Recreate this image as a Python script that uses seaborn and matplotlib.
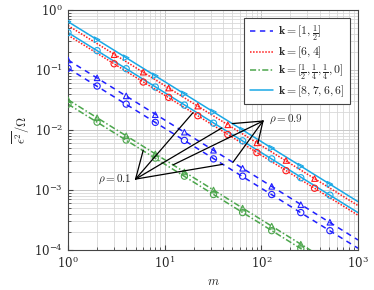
import matplotlib
matplotlib.use('Agg')
import matplotlib.pyplot as plt
import seaborn as sns

sns.set_style('ticks')
plt.rcParams['font.family'] = ['DejaVu Serif']
plt.rcParams['mathtext.fontset'] = 'cm'

# theory lines, value at m=1 and m=1000
m_line = [1, 1000]
blue_hi_line = [0.147, 1.47e-4]
blue_lo_line = [0.107, 1.07e-4]
red_hi_line = [0.55, 5.5e-4]
red_lo_line = [0.38, 3.8e-4]
green_hi_line = [0.032, 3.2e-5]
green_lo_line = [0.027, 2.7e-5]
cyan_hi_line = [0.64, 6.4e-4]
cyan_lo_line = [0.42, 4.2e-4]

# simulated points
m_pow2 = [1, 2, 4, 8, 16, 32, 64, 128, 256, 512]
m_red = [3, 6, 11, 22, 45, 90, 180, 355]
m_green = [1, 2, 4, 8, 16, 32, 64, 128, 256]
blue_hi = [0.147, 0.074, 0.037, 0.018, 0.0092, 0.0046, 0.0023, 0.00115, 0.00057, 0.00029]
blue_lo = [0.107, 0.054, 0.027, 0.0134, 0.0067, 0.0033, 0.0017, 0.00084, 0.00042, 0.00021]
red_hi = [0.18, 0.092, 0.05, 0.025, 0.0122, 0.0061, 0.0031, 0.00155]
red_lo = [0.127, 0.063, 0.035, 0.0173, 0.0084, 0.0042, 0.0021, 0.00107]
cyan_hi = [0.64, 0.32, 0.16, 0.08, 0.04, 0.02, 0.01, 0.005, 0.0025, 0.00125]
cyan_lo = [0.42, 0.21, 0.105, 0.052, 0.026, 0.013, 0.0066, 0.0033, 0.0016, 0.00082]
green_hi = [0.032, 0.016, 0.008, 0.004, 0.002, 0.001, 0.0005, 0.00025, 0.000125]
green_lo = [0.027, 0.0135, 0.0068, 0.0034, 0.0017, 0.00084, 0.00042, 0.00021, 0.000105]

labels = [r'$\mathbf{k}=[1,\frac{1}{2}]$', r'$\mathbf{k}=[6,4]$',
          r'$\mathbf{k}=[\frac{1}{2},\frac{1}{4},\frac{1}{4},0]$', r'$\mathbf{k}=[8,7,6,6]$']

c_blue = '#1f1fff'
c_red = '#ff1a1a'
c_green = '#4ca64c'
c_cyan = '#1aa8e6'

fig = plt.figure(figsize=(3.74, 2.9), dpi=100)
ax = fig.add_axes([68/374, 40/290, 290/374, 240/290])
ax.set_xscale('log')
ax.set_yscale('log')

series = [
    (blue_hi_line, blue_lo_line, m_pow2, blue_hi, blue_lo, c_blue, (0, (3.5, 3)), labels[0]),
    (red_hi_line, red_lo_line, m_red, red_hi, red_lo, c_red, (0, (1, 1)), labels[1]),
    (green_hi_line, green_lo_line, m_green, green_hi, green_lo, c_green, (0, (4, 1.5, 1, 1.5)), labels[2]),
    (cyan_hi_line, cyan_lo_line, m_pow2, cyan_hi, cyan_lo, c_cyan, '-', labels[3]),
]
for hi_l, lo_l, mm, hi, lo, col, ls, lab in series:
    sns.lineplot(x=m_line, y=hi_l, ax=ax, color=col, ls=ls, lw=1.1, label=lab)
    sns.lineplot(x=m_line, y=lo_l, ax=ax, color=col, ls=ls, lw=1.1)
    tri = '>' if col == c_cyan else '^'
    sns.scatterplot(x=mm, y=hi, ax=ax, marker=tri, s=16, facecolor='none',
                    edgecolor=col, linewidth=0.8, zorder=3)
    sns.scatterplot(x=mm, y=lo, ax=ax, marker='o', s=20, facecolor='none',
                    edgecolor=col, linewidth=0.8, zorder=3)

# annotation lines
v1 = (5, 1.52e-3)
v1_targets = [(6, 4.6e-3), (19.6, 0.0194), (39, 0.0108), (40, 0.00268)]
v2 = (104, 0.0141)
v2_targets = [(12.2, 0.00262), (50.8, 0.00289), (50, 0.0128), (92, 0.00598)]
for v, tg in [(v1, v1_targets), (v2, v2_targets)]:
    for t in tg:
        ax.annotate('', xy=t, xytext=v,
                    arrowprops=dict(arrowstyle='-', color='black', lw=0.9,
                                    shrinkA=0, shrinkB=0))
ax.annotate(r'$\rho=0.1$', xy=v1, xytext=(-3, 0), textcoords='offset points',
            ha='right', va='center', fontsize=8)
ax.annotate(r'$\rho=0.9$', xy=v2, xytext=(4, 1), textcoords='offset points',
            ha='left', va='center', fontsize=8)

ax.set_xlim(1, 1000)
ax.set_ylim(1e-4, 1)
ax.grid(True, which='major', color='#c8c8c8', lw=0.7)
ax.grid(True, which='minor', color='#d8d8d8', lw=0.6)
ax.set_axisbelow(True)
ax.tick_params(which='both', direction='in', labelsize=8.5, color='#444444')
for sp in ax.spines.values():
    sp.set_color('#444444')
    sp.set_linewidth(0.8)
ax.set_xlabel(r'$m$', fontsize=9, labelpad=3)
ax.set_ylabel(r'$\overline{\epsilon^2}/\Omega$', fontsize=9, labelpad=2)

leg = ax.legend(loc='upper right', fontsize=8.5, frameon=True, fancybox=False,
                edgecolor='#444444', framealpha=1, handlelength=2.0,
                handletextpad=0.4, labelspacing=0.15, borderaxespad=0.7,
                borderpad=0.45)
leg.get_frame().set_linewidth(0.8)

fig.savefig('out.png', dpi=100)
